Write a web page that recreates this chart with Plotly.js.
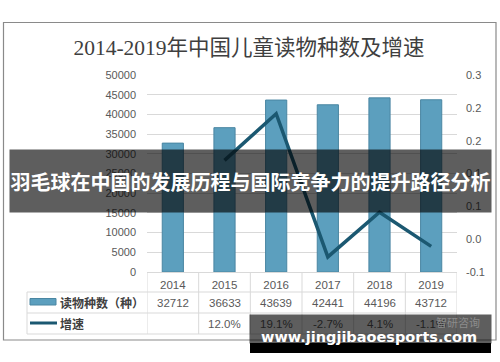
<!DOCTYPE html>
<html>
<head>
<meta charset="utf-8">
<script src="https://cdn.plot.ly/plotly-3.0.1.min.js"></script>
<style>
html,body{margin:0;padding:0;background:#fff;}
#chart{width:500px;height:362px;}
</style>
</head>
<body>
<div id="chart"></div>
<script>
// ---- data ----
var years = ['2014', '2015', '2016', '2017', '2018', '2019'];
var counts = [32712, 36633, 43639, 42441, 44196, 43712];
var growth = [null, 0.120, 0.191, -0.027, 0.041, -0.011];
var rightTickVals = [-0.05, 0, 0.05, 0.1, 0.15, 0.2, 0.25];
var rightTickText = ['-0.1', '0.0', '0.1', '0.1', '0.2', '0.2', '0.3'];
var seriesNames = ['读物种数（种）', '增速'];
var chartTitle = '2014-2019年中国儿童读物种数及增速';
var bannerText = '羽毛球在中国的发展历程与国际竞争力的提升路径分析';
var siteText = 'www.jingjibaoesports.com';
var sourceText = '智研咨询';

// ---- geometry helpers (plot area 147..457 x 75..272) ----
var L = 147, R = 43, T = 75, B = 90, W = 500, H = 362;
var PW = W - L - R, PH = H - T - B;
function px(x) { return (x - L) / PW; }
function py(y) { return (T + PH - y) / PH; }

var barColor = '#5c9fbe', barEdge = '#4a86a2', lineColor = '#1b5871';
var gridC = '#d9d9d9', txtC = '#595959';
var numFont = 'Liberation Sans, Arial, sans-serif';
var cjkFont = 'Noto Sans CJK SC, sans-serif';

var traces = [
  {type: 'bar', x: years, y: counts, name: seriesNames[0], width: 0.41,
   marker: {color: barColor, line: {color: barEdge, width: 1}}, xaxis: 'x', yaxis: 'y'},
  {type: 'scatter', mode: 'lines', x: years, y: growth, name: seriesNames[1],
   line: {color: lineColor, width: 3.5}, connectgaps: false, xaxis: 'x', yaxis: 'y2'}
];

var shapes = [];
var annotations = [];

// outer border
shapes.push({type: 'rect', xref: 'paper', yref: 'paper', x0: px(3.5), x1: px(496), y0: py(22.5), y1: py(340),
  line: {color: '#8a8a8a', width: 1.2}, fillcolor: 'rgba(0,0,0,0)', layer: 'below'});

// table grid
var rowsY = [292, 313, 334];
rowsY.forEach(function (y) {
  shapes.push({type: 'line', xref: 'paper', yref: 'paper', x0: px(27), x1: 1, y0: py(y), y1: py(y),
    line: {color: gridC, width: 1}});
});
shapes.push({type: 'line', xref: 'paper', yref: 'paper', x0: px(27), x1: px(27), y0: py(292), y1: py(334),
  line: {color: gridC, width: 1}});
for (var i = 0; i <= years.length; i++) {
  shapes.push({type: 'line', xref: 'x', yref: 'paper', x0: i - 0.5, x1: i - 0.5, y0: 0, y1: py(334),
    line: {color: gridC, width: 1}});
}
// legend keys
shapes.push({type: 'rect', xref: 'paper', yref: 'paper', x0: px(30), x1: px(56), y0: py(298.5), y1: py(305),
  fillcolor: barColor, line: {color: barEdge, width: 1}});
shapes.push({type: 'line', xref: 'paper', yref: 'paper', x0: px(30), x1: px(57), y0: py(323), y1: py(323),
  line: {color: lineColor, width: 3}});
// black strip under watermark
shapes.push({type: 'rect', xref: 'paper', yref: 'paper', x0: px(250), x1: px(491), y0: py(343), y1: py(353),
  fillcolor: '#000', line: {width: 0}, layer: 'above'});

// table labels
annotations.push({xref: 'paper', yref: 'paper', x: px(58), y: py(302.5), xanchor: 'left', yanchor: 'middle',
  text: '<b>' + seriesNames[0] + '</b>', showarrow: false, font: {family: cjkFont, size: 12, color: '#404040'}});
annotations.push({xref: 'paper', yref: 'paper', x: px(58), y: py(323.5), xanchor: 'left', yanchor: 'middle',
  text: '<b>' + seriesNames[1] + '</b>', showarrow: false, font: {family: cjkFont, size: 12, color: '#404040'}});
// table values
years.forEach(function (yr, k) {
  annotations.push({xref: 'x', yref: 'paper', x: k, y: py(302.5), xanchor: 'center', yanchor: 'middle', showarrow: false,
    text: String(counts[k]), font: {family: numFont, size: 11.5, color: txtC}});
  if (growth[k] !== null) {
    annotations.push({xref: 'x', yref: 'paper', x: k, y: py(323.5), xanchor: 'center', yanchor: 'middle', showarrow: false,
      text: (growth[k] * 100).toFixed(1) + '%', font: {family: numFont, size: 11.5, color: txtC}});
  }
});

// banner across the chart
annotations.push({xref: 'paper', yref: 'paper', x: px(250.5), y: py(181), xanchor: 'center', yanchor: 'middle',
  width: 481, height: 62, borderpad: 0, bgcolor: 'rgba(0,0,0,0.63)', showarrow: false,
  text: '<b>' + bannerText + '</b>', font: {family: cjkFont, size: 20, color: '#fff'}});

// bottom watermark
annotations.push({xref: 'paper', yref: 'paper', x: px(370.5), y: py(329), xanchor: 'center', yanchor: 'middle',
  width: 241, height: 28, borderpad: 0, bgcolor: 'rgba(0,0,0,0.63)', showarrow: false,
  text: ' ', font: {size: 10, color: '#fff'}});
annotations.push({xref: 'paper', yref: 'paper', x: px(482), y: py(322), xanchor: 'right', yanchor: 'middle',
  showarrow: false, text: sourceText, font: {family: cjkFont, size: 11, color: '#8c8c8c'}});
annotations.push({xref: 'paper', yref: 'paper', x: px(369), y: py(337), xanchor: 'center', yanchor: 'middle',
  showarrow: false, text: '<b>' + siteText + '</b>', font: {family: 'DejaVu Sans, sans-serif', size: 14.5, color: '#fff'}});

var layout = {
  width: W, height: H,
  margin: {l: L, r: R, t: T, b: B, pad: 0},
  paper_bgcolor: '#fff', plot_bgcolor: '#fff',
  showlegend: false,
  bargap: 0.59,
  title: {text: chartTitle, xref: 'container', yref: 'container', x: 0.498, y: 1 - 47 / H,
    xanchor: 'center', yanchor: 'middle',
    font: {family: 'Liberation Serif, Noto Sans CJK SC, serif', size: 21.5, color: '#3f3f3f'}},
  xaxis: {type: 'category', showgrid: false, zeroline: false, showline: true, linecolor: gridC, linewidth: 1,
    ticks: '', tickfont: {family: numFont, size: 11.5, color: txtC}, ticklabelstandoff: 2,
    range: [-0.5, years.length - 0.5]},
  yaxis: {range: [0, 50000], dtick: 5000, tick0: 0, tickformat: 'd', showgrid: true, gridcolor: gridC, gridwidth: 1,
    zeroline: false, showline: false, ticks: '', ticklabelstandoff: 10,
    tickfont: {family: numFont, size: 11, color: txtC}},
  yaxis2: {overlaying: 'y', side: 'right', range: [-0.05, 0.25], tickmode: 'array',
    tickvals: rightTickVals, ticktext: rightTickText, showgrid: false, zeroline: false, showline: false,
    ticks: '', ticklabelstandoff: 8, tickfont: {family: numFont, size: 11, color: txtC}},
  shapes: shapes,
  annotations: annotations
};

Plotly.newPlot('chart', traces, layout, {staticPlot: true, displayModeBar: false});
</script>
</body>
</html>
